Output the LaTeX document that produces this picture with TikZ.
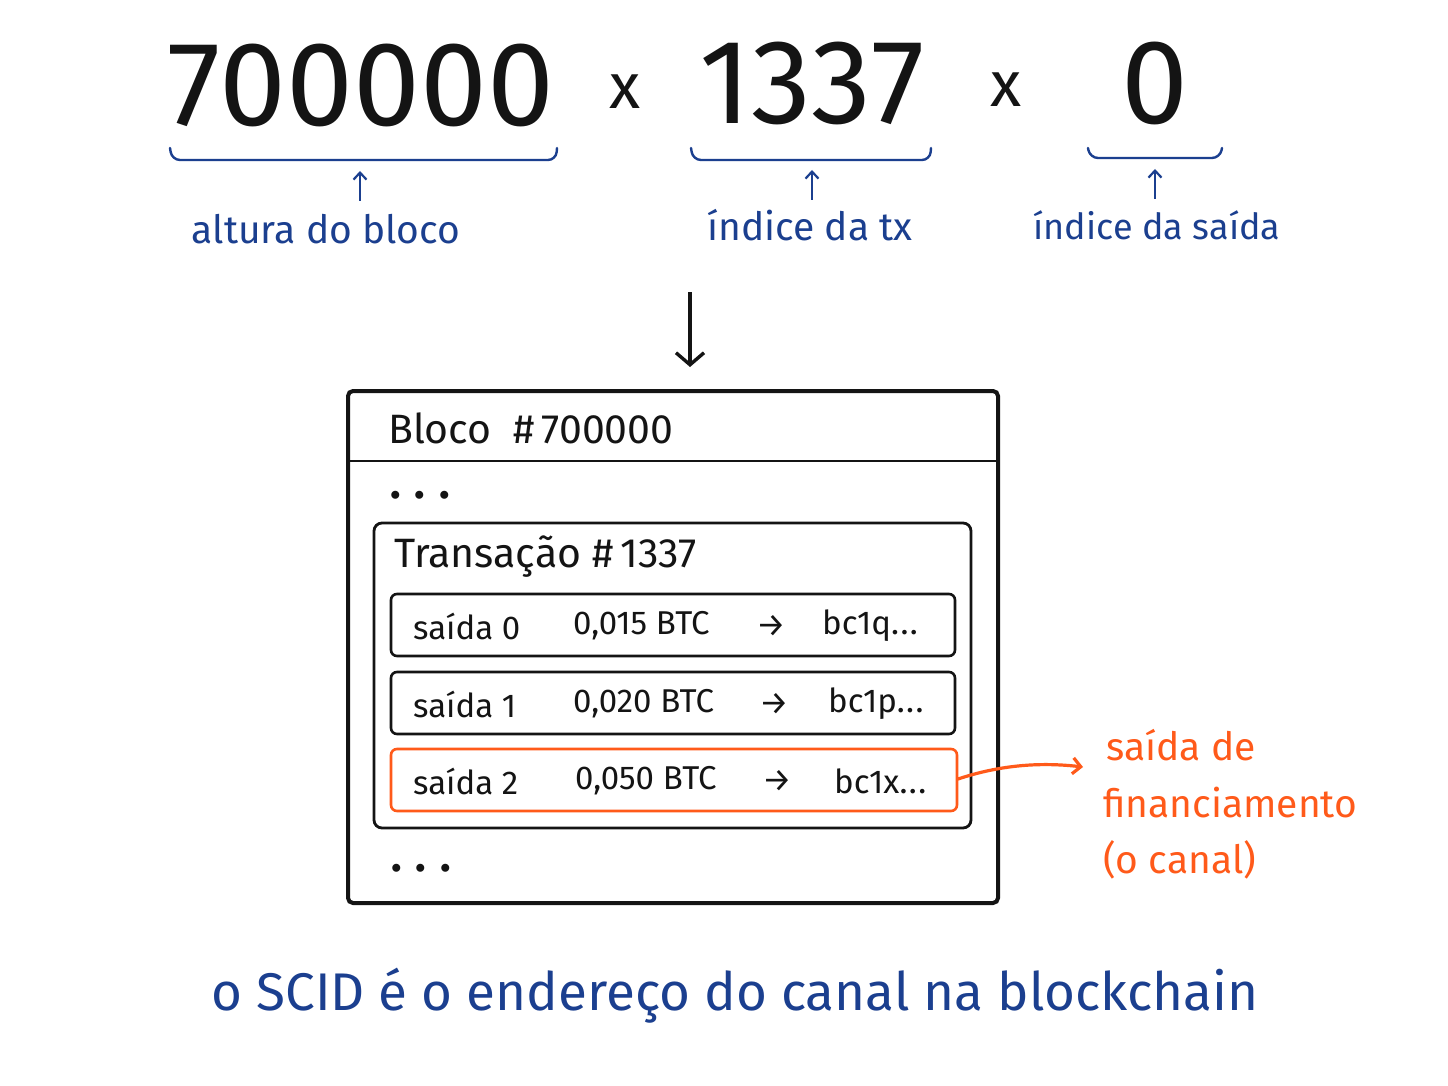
\documentclass[tikz,border=0pt]{standalone}
\usepackage{fontspec}
\setmainfont{Fira Sans}
\usetikzlibrary{arrows.meta}
\definecolor{inkblue}{HTML}{1B3F8F}
\definecolor{inkorange}{HTML}{FF5A1A}
\definecolor{ink}{HTML}{141414}
\newcommand{\fs}[1]{\fontsize{#1}{#1}\selectfont}
\newcommand{\eldots}{.\hspace{1.5pt}.\hspace{1.5pt}.}
\begin{document}
\begin{tikzpicture}[x=1pt,y=-1pt,
  bignum/.style={text=ink,inner sep=0pt,font=\fs{120}},
  times/.style={text=ink,inner sep=0pt,font=\fs{64}},
  bluelab/.style={text=inkblue,inner sep=0pt,font=\fs{39}},
  brace/.style={draw=inkblue,line width=2.4pt,line cap=round,rounded corners=8pt},
  upar/.style={draw=inkblue,line width=2.2pt,-{Straight Barb[length=7pt,width=13pt,line width=2.2pt]}},
  boxtext/.style={text=ink,inner sep=0pt,font=\fs{41},anchor=west},
  rowtext/.style={text=ink,inner sep=0pt,font=\fs{33},anchor=west},
  rowbox/.style={draw=ink,line width=2.6pt,rounded corners=6pt},
  orangelab/.style={text=inkorange,inner sep=0pt,font=\fs{39},anchor=west},
  dotstext/.style={text=ink,inner sep=0pt,font=\fs{44}\bfseries,anchor=west},
]
\fill[white] (0,0) rectangle (1448,1086);
\useasboundingbox (0,0) rectangle (1448,1086);

% top numbers
\node[bignum] (n1) at (361,85) {700000};
\node[times] (x1) at (625,92) {x};
\node[bignum] (n2) at (812,83) {1337};
\node[times] (x2) at (1006,90) {x};
\node[bignum] (n3) at (1155,83) {0};

% braces
\draw[brace] (170,148) -- (172,160) -- (556,160) -- (557,148);
\draw[brace] (691,148) -- (693,160) -- (930,160) -- (931,148);
\draw[brace] (1088,148) -- (1090,158) -- (1220,158) -- (1222,148);
\coordinate (b1) at (360,171);
\coordinate (b2) at (812,170);
\coordinate (b3) at (1155,169);

% labels
\node[bluelab] (l1) at (326,229) {altura do bloco};
\node[bluelab] (l2) at (810,225) {índice da tx};
\node[bluelab,font=\fs{36}] (l3) at (1157,225) {índice da saída};
\draw[upar] (360,201) -- (b1);
\draw[upar] (812,200) -- (b2);
\draw[upar] (1155,199) -- (b3);

% down arrow
\coordinate (d0) at (690,292);
\draw[draw=ink,line width=3.4pt,-{Straight Barb[length=12pt,width=28pt,line width=3.4pt]}] (d0) -- (690,367) coordinate (d1);

% block box
\draw[draw=ink,line width=4pt,rounded corners=5pt] (348,391) rectangle (998,903);
\draw[draw=ink,line width=2.8pt] (348,461) -- (998,461);
\node[boxtext] (blk) at (388,428) {Bloco \ \#\,700000};
\node[dotstext] (dots1) at (390,495) {. . .};

% transaction box
\draw[draw=ink,line width=2.8pt,rounded corners=8pt] (374,523) rectangle (971,828);
\node[boxtext] (tx) at (394,557) {Transação \#\,1337};

% outputs
\draw[rowbox] (391,594) rectangle (955,656) node[midway] (o0) {};
\draw[rowbox] (391,672) rectangle (955,734) node[midway] (o1) {};
\draw[rowbox,draw=inkorange] (391,749) rectangle (957,811) node[midway] (o2) {};
\coordinate (o2e) at (958,779);

\node[rowtext] at (413,626) {saída 0};
\node[rowtext] at (573,626) {0,015 BTC};
\node[rowtext] at (756,626) {→};
\node[rowtext] at (822,626) {bc1q\eldots};

\node[rowtext] at (413,704) {saída 1};
\node[rowtext] at (573,704) {0,020 BTC};
\node[rowtext] at (759,704) {→};
\node[rowtext] at (828,704) {bc1p\eldots};

\node[rowtext] at (413,781) {saída 2};
\node[rowtext] at (575,781) {0,050 BTC};
\node[rowtext] at (762,781) {→};
\node[rowtext] at (834,781) {bc1x\eldots};

\node[dotstext] (dots2) at (391,868) {. . .};

% orange label and arrow
\node[orangelab] (fl1) at (1106,745) {saída de};
\node[orangelab] (fl2) at (1103,803) {financiamento};
\node[orangelab] (fl3) at (1103,860) {(o canal)};
\coordinate (fa) at (1083,767);
\draw[draw=inkorange,line width=3.2pt,line cap=round,-{Straight Barb[length=8pt,width=16pt,line width=3.2pt]}]
  (o2e) .. controls (1000,765) and (1040,762) .. (fa);

% bottom caption
\node[text=inkblue,inner sep=0pt,font=\fs{53}] (cap) at (735,996) {o SCID é o endereço do canal na blockchain};
\end{tikzpicture}
\end{document}
